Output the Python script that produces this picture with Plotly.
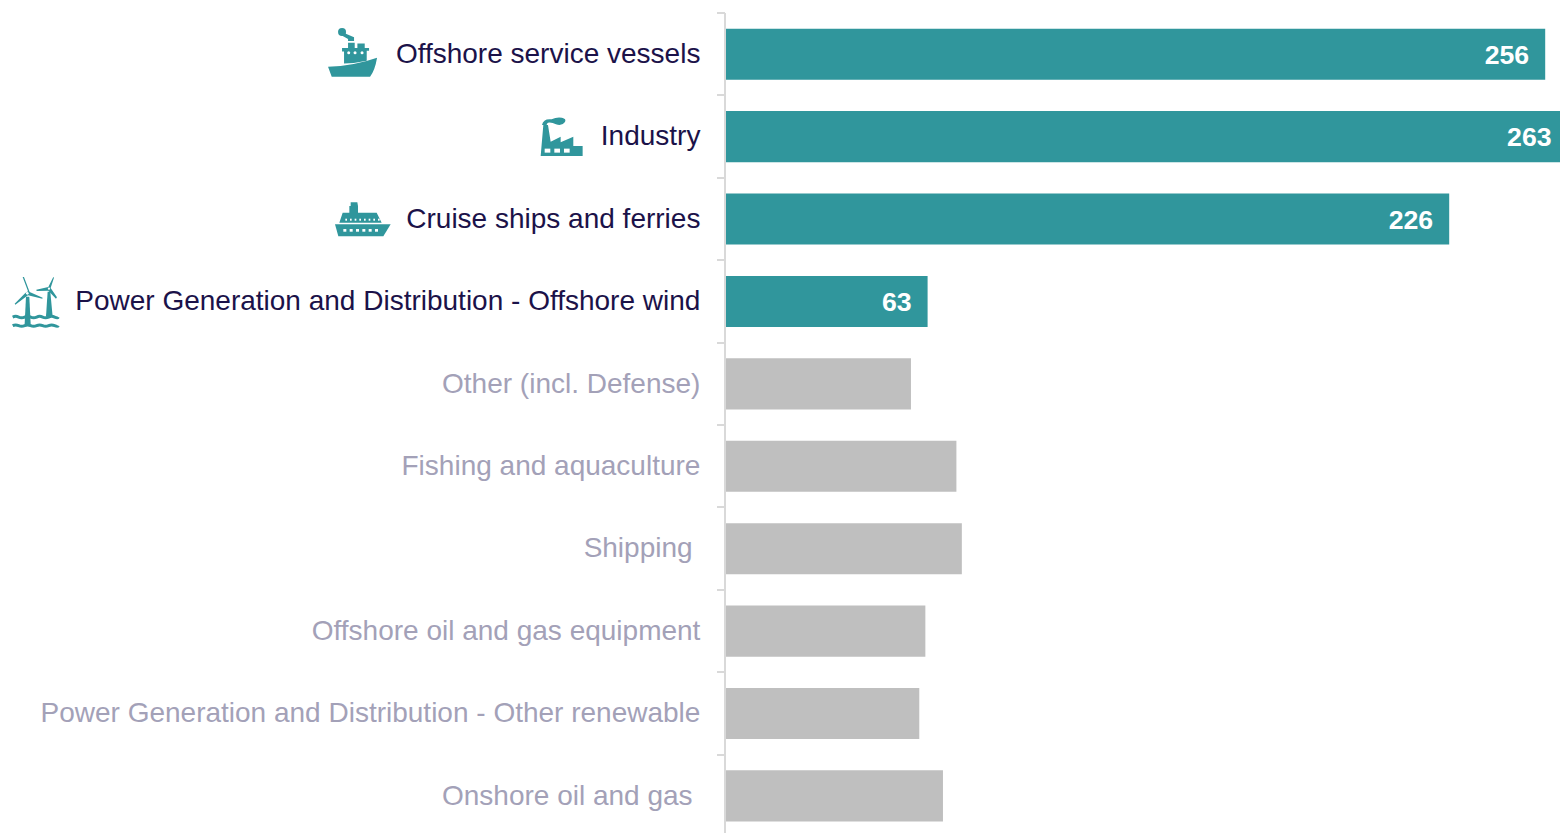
import base64
import plotly.graph_objects as go

categories = [
    "Offshore service vessels",
    "Industry",
    "Cruise ships and ferries",
    "Power Generation and Distribution - Offshore wind",
    "Other (incl. Defense)",
    "Fishing and aquaculture",
    "Shipping\u00a0",
    "Offshore oil and gas equipment",
    "Power Generation and Distribution - Other renewable",
    "Onshore oil and gas\u00a0",
]
values = [256, 263, 226, 63, 57.8, 72, 73.7, 62.3, 60.4, 67.8]
labelled = [True, True, True, True, False, False, False, False, False, False]

TEAL = "#30969c"
GREY = "#bfbfbf"
INK = "#1b1249"
MUTED = "#a3a1b8"
RULE = "#d9d9d9"
FONT = "Liberation Sans, Arial, sans-serif"

WIDTH, HEIGHT = 1560, 833
LEFT, TOP = 726, 13
PX_PER_UNIT = 3.2
X_MAX = (WIDTH - LEFT) / PX_PER_UNIT
LABEL_INSET = 16 / PX_PER_UNIT
LABEL_DROP = 0.035


def svg_uri(view_box, body):
    svg = (
        f'<svg xmlns="http://www.w3.org/2000/svg" viewBox="{view_box}" '
        f'width="300" height="300"><g fill="{TEAL}">{body}</g></svg>'
    )
    return "data:image/svg+xml;base64," + base64.b64encode(svg.encode()).decode()


def dots(xs, y, r=4.5):
    return "".join(f'<circle cx="{x}" cy="{y}" r="{r}" fill="#fff"/>' for x in xs)


def squares(xs, y, w, h):
    return "".join(
        f'<rect x="{x}" y="{y}" width="{w}" height="{h}" fill="#fff"/>' for x in xs
    )


tug_icon = svg_uri(
    "20 50 155 155",
    '<path d="M24 170 Q100 168 171 143 Q165 180 150 200 L35 200 Z"/>'
    '<path d="M72 124 H66 V114 H84 V98 H104 V114 H112 V100 H134 V114 H147 V122 H140 V152 '
    'Q105 160 72 160 Z"/>'
    '<circle cx="66" cy="66" r="12"/>'
    '<path d="M74 70 L102 82 V93 H84 V87 L64 76 Z"/>' + dots([86, 105, 126], 128),
)
factory_icon = svg_uri(
    "660 315 130 130",
    '<path d="M662 438 L670 345 H684 L692 395 L722 380 V397 L760 380 V408 H788 V438 Z"/>'
    '<path d="M666 345 Q670 325 695 328 Q710 320 726 323 Q740 326 735 336 Q725 350 708 343 '
    'Q695 336 684 338 Q680 340 680 345 Z"/>' + squares([674, 703, 732], 416, 17, 12),
)
cruise_icon = svg_uri(
    "1005 35 168 168",
    '<path d="M1005 133 H1172 L1150 169 H1015 Z"/>'
    '<path d="M1018 128 L1028 98 H1048 V78 H1052 V67 H1072 L1074 78 V98 H1130 L1145 128 Z"/>'
    + squares([1030, 1049, 1068, 1087, 1106, 1125], 147, 9, 8)
    + squares([1036, 1050, 1064, 1078, 1092, 1106, 1120, 1134], 116, 5, 6),
)
wave = "M38 {y} Q47 {u} 56 {y} T74 {y} T92 {y} T110 {y} T128 {y} T146 {y} T164 {y} T175 {y}"
turbine_icon = svg_uri(
    "30 290 154 154",
    '<path d="M78 350 H88 L92 432 H74 Z"/>'
    '<path d="M143 335 H151 L158 410 H138 Z"/>'
    '<path d="M84 334 L68 291 L72 291 L89 336 L128 353 L127 356 L84 346 L46 374 L44 371 L76 339 Z"/>'
    '<path d="M145 321 L160 291 L162 293 L152 324 L171 352 L168 356 L145 332 L110 333 L109 329 Z"/>'
    f'<path d="{wave.format(y=411, u=407)}" fill="none" stroke="{TEAL}" stroke-width="9"/>'
    f'<path d="{wave.format(y=437, u=433)}" fill="none" stroke="{TEAL}" stroke-width="9"/>'
    '<circle cx="82" cy="340" r="4" fill="#fff"/><circle cx="147" cy="326" r="3.5" fill="#fff"/>',
)

# Icon placement in page pixels: left, top, box size
icons = [
    (tug_icon, 326.7, 26.7, 51.7),
    (factory_icon, 540, 115, 43.3),
    (cruise_icon, 335, 191.7, 56),
    (turbine_icon, 10, 276.7, 51.3),
]

plot_w = WIDTH - LEFT
plot_h = HEIGHT - TOP
images = [
    dict(
        source=src,
        xref="paper",
        yref="paper",
        x=(px - LEFT) / plot_w,
        y=1 - (py - TOP) / plot_h,
        sizex=size / plot_w,
        sizey=size / plot_h,
        xanchor="left",
        yanchor="top",
        sizing="stretch",
        layer="above",
    )
    for src, px, py, size in icons
]

tick_text = [
    f'<span style="color:{INK if on else MUTED}">{name}</span>'
    for name, on in zip(categories, labelled)
]
rows = list(range(len(categories)))

fig = go.Figure()
fig.add_trace(
    go.Bar(
        y=rows,
        x=values,
        orientation="h",
        width=0.62,
        marker=dict(color=[TEAL if on else GREY for on in labelled], line_width=0),
        cliponaxis=True,
        hoverinfo="skip",
    )
)
# Value labels sit a fixed inset from the end of each highlighted bar
fig.add_trace(
    go.Scatter(
        y=[r + LABEL_DROP for r, on in zip(rows, labelled) if on],
        x=[v - LABEL_INSET for v, on in zip(values, labelled) if on],
        mode="text",
        text=[str(v) for v, on in zip(values, labelled) if on],
        textposition="middle left",
        textfont=dict(family=FONT, size=26.67, color="#ffffff", weight="bold"),
        hoverinfo="skip",
    )
)
# Band separators live on an overlaid axis, with ticks on the category boundaries
fig.add_trace(
    go.Scatter(
        x=[0], y=[0], yaxis="y2", mode="markers", marker_opacity=0, hoverinfo="skip"
    )
)

fig.update_layout(
    width=WIDTH,
    height=HEIGHT,
    margin=dict(l=LEFT, r=0, t=TOP, b=0, pad=0),
    paper_bgcolor="#ffffff",
    plot_bgcolor="#ffffff",
    showlegend=False,
    images=images,
    font=dict(family=FONT),
    xaxis=dict(range=[0, X_MAX], visible=False, fixedrange=True),
    yaxis=dict(
        type="linear",
        range=[9.45, -0.5],
        tickmode="array",
        tickvals=rows,
        ticktext=tick_text,
        showgrid=False,
        zeroline=False,
        showline=True,
        linecolor=RULE,
        linewidth=2,
        ticks="",
        ticklabelstandoff=18,
        ticklabelshift=1,
        tickfont=dict(family=FONT, size=28, color=INK),
        fixedrange=True,
        automargin=False,
    ),
    yaxis2=dict(
        overlaying="y",
        side="left",
        anchor="x",
        range=[9.45, -0.5],
        tickmode="array",
        tickvals=[r - 0.5 for r in rows],
        ticktext=[""] * len(rows),
        ticks="outside",
        ticklen=8,
        tickwidth=2,
        tickcolor=RULE,
        showgrid=False,
        zeroline=False,
        showline=False,
        fixedrange=True,
    ),
)

fig.write_html("out.html", config=dict(displayModeBar=False))
